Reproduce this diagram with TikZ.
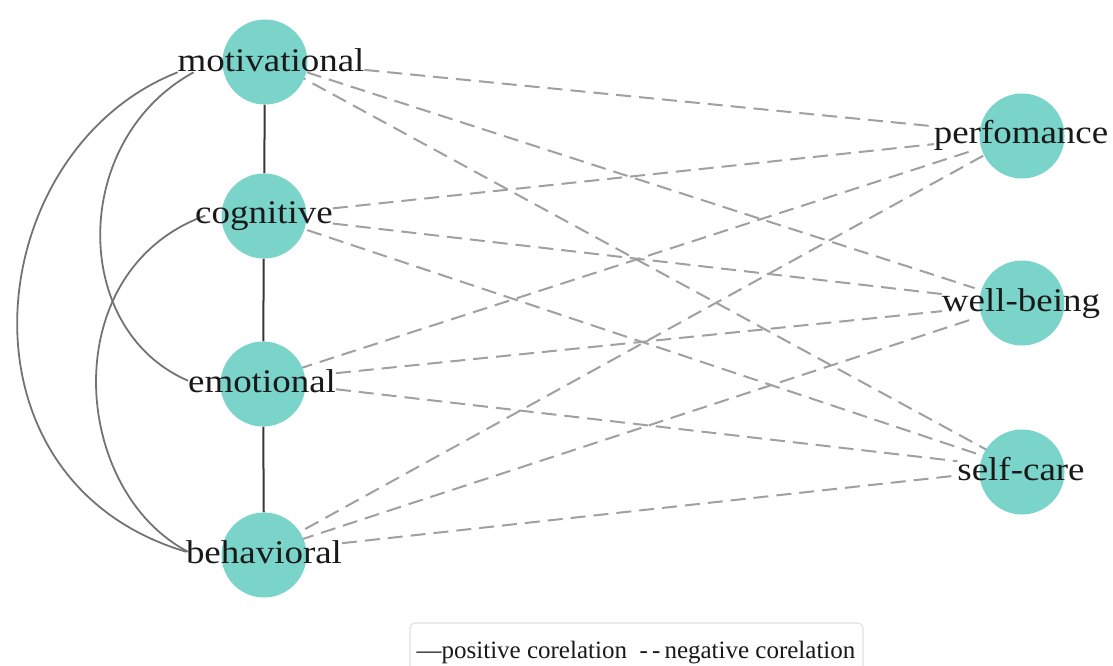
\documentclass[tikz,border=0pt]{standalone}
\usepackage{fontspec}
\setmainfont{Liberation Serif}
\usetikzlibrary{backgrounds}
\definecolor{nodefill}{RGB}{122,212,201}
\definecolor{negline}{RGB}{160,160,160}
\definecolor{posline}{RGB}{55,55,55}
\definecolor{arcline}{RGB}{115,115,115}
\definecolor{legframe}{RGB}{225,225,225}
\newcommand{\lblfont}{\fontsize{33}{33}\selectfont}
\newcommand{\lbl}[1]{\scalebox{1.12}[1]{\lblfont #1}}
\tikzset{
  lblbox/.style={inner sep=0pt, outer sep=0pt, anchor=base},
  lbltext/.style={inner sep=0pt, outer sep=0pt, anchor=base, text=black!90},
  dotnode/.style={circle, fill=nodefill, draw=none, minimum size=85pt, inner sep=0pt},
  negedge/.style={draw=negline, line width=2pt, dash pattern=on 15pt off 8pt},
  posedge/.style={draw=posline, line width=2pt},
  arcedge/.style={draw=arcline, line width=1.8pt},
}
\begin{document}
\begin{tikzpicture}[x=1pt,y=-1pt]
\useasboundingbox (0,0) rectangle (1113,666);
% circles
\node[dotnode] (mc) at (265,62) {};
\node[dotnode] (cc) at (264,216) {};
\node[dotnode] (ec) at (263,384) {};
\node[dotnode] (bc) at (264,555) {};
\node[dotnode] (pc) at (1022,136) {};
\node[dotnode] (wc) at (1022,303) {};
\node[dotnode] (sc) at (1022,472) {};
% label boxes (invisible, used for clipping connectors)
\node[lblbox] (m) at (271,72) {\phantom{\lbl{motivational}}};
\node[lblbox] (c) at (264,223) {\phantom{\lbl{cognitive}}};
\node[lblbox] (e) at (262,392) {\phantom{\lbl{emotional}}};
\node[lblbox] (b) at (264,563) {\phantom{\lbl{behavioral}}};
\node[lblbox] (p) at (1021,143) {\phantom{\lbl{perfomance}}};
\node[lblbox] (w) at (1021,311) {\phantom{\lbl{well-being}}};
\node[lblbox] (s) at (1021,480) {\phantom{\lbl{self-care}}};
\begin{pgfonlayer}{background}
% negative correlations
\foreach \a in {m,c,e,b}{
  \foreach \t in {p,w,s}{
    \draw[negedge] (\a) -- (\t);
  }
}
% positive correlations
\draw[posedge] (mc) -- (cc);
\draw[posedge] (cc) -- (ec);
\draw[posedge] (ec) -- (bc);
\coordinate (m1) at ([xshift=16pt]m.south west);
\coordinate (c1) at ([xshift=10pt]c.west);
\draw[arcedge] (m.south west) .. controls (-20,150) and (-55,480) .. (b.west);
\draw[arcedge] (m1) .. controls (70,140) and (70,330) .. (e.west);
\draw[arcedge] (c1) .. controls (55,270) and (70,490) .. ([xshift=2pt]b.west);
\end{pgfonlayer}
% labels
\node[lbltext] (mt) at (m.base) {\lbl{motivational}};
\node[lbltext] (ct) at (c.base) {\lbl{cognitive}};
\node[lbltext] (et) at (e.base) {\lbl{emotional}};
\node[lbltext] (bt) at (b.base) {\lbl{behavioral}};
\node[lbltext] (pt) at (p.base) {\lbl{perfomance}};
\node[lbltext] (wt) at (w.base) {\lbl{well-being}};
\node[lbltext] (st) at (s.base) {\lbl{self-care}};
% legend
\draw[legframe, line width=1.2pt, rounded corners=5pt] (410,623) rectangle (863,690);
\node[anchor=base, inner sep=0pt, text=black!90] (leg) at (636,658)
  {\fontsize{25}{25}\selectfont ---positive corelation\ \ -\,-\,negative corelation};
\end{tikzpicture}
\end{document}
